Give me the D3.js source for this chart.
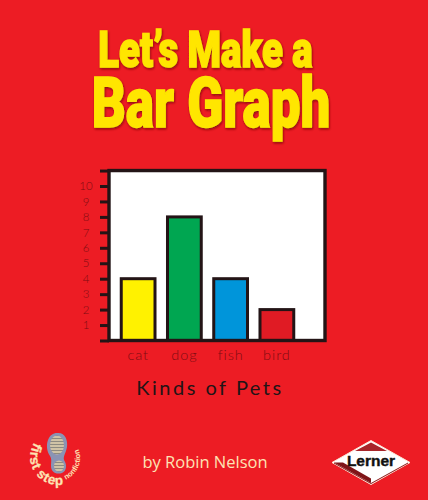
<!DOCTYPE html>
<html>
<head>
<meta charset="utf-8">
<script src="https://cdn.jsdelivr.net/npm/d3@7"></script>
<style>
  html, body { margin: 0; padding: 0; background: #ed1c24; }
  svg { display: block; }
</style>
</head>
<body>
<div id="cover"></div>
<script>
// chart data
var pets = ["cat", "dog", "fish", "bird"];
var counts = [4, 8, 4, 2];
var barColors = ["#fff200", "#00a651", "#0095da", "#e01b24"];
var tickValues = [1, 2, 3, 4, 5, 6, 7, 8, 9, 10];
var topTick = 11;

var red = "#ed1c24", ink = "#231416", inkRed = "#7e0c12", cream = "#fde3b4";

var svg = d3.select("#cover")
  .append("svg")
    .attr("width", 428)
    .attr("height", 500);

svg.append("rect")
    .attr("width", 428)
    .attr("height", 500)
    .attr("fill", red);

var defs = svg.append("defs");
var shadow = defs.append("filter").attr("id", "soft")
    .attr("x", "-10%").attr("y", "-10%").attr("width", "120%").attr("height", "120%");
shadow.append("feDropShadow")
    .attr("dx", 1).attr("dy", 1.5)
    .attr("stdDeviation", 1.2)
    .attr("flood-color", "#8c0a10");

// title, squeezed horizontally to get the condensed look
function titleLine(label, cx, baseline, size, squeeze) {
  svg.append("text")
      .attr("transform", "translate(" + cx + "," + baseline + ") scale(" + squeeze + ",1)")
      .attr("text-anchor", "middle")
      .attr("font-family", "Roboto, sans-serif")
      .attr("font-weight", 900)
      .attr("font-size", size)
      .attr("fill", "#ffe600")
      .attr("stroke", "#ffe600")
      .attr("stroke-width", 1.5)
      .attr("filter", "url(#soft)")
      .text(label);
}
titleLine("Let\u2019s Make a", 205.5, 67, 50, 0.765);
titleLine("Bar Graph", 211, 127, 70, 0.756);

// scales
var x = d3.scaleBand()
    .domain(pets)
    .range([115, 300])
    .paddingInner(0.27)
    .paddingOuter(0.135);

var y = d3.scaleLinear()
    .domain([0, 10])
    .range([340.5, 186]);

// plot panel
svg.append("rect")
    .attr("x", 109)
    .attr("y", y(topTick))
    .attr("width", 216)
    .attr("height", y(0) - y(topTick))
    .attr("fill", "#fff");

// bars
svg.append("g")
  .selectAll("rect")
  .data(pets)
  .enter()
  .append("rect")
    .attr("x", function (d) { return x(d); })
    .attr("y", function (d, i) { return y(counts[i]); })
    .attr("width", x.bandwidth())
    .attr("height", function (d, i) { return y(0) - y(counts[i]); })
    .attr("fill", function (d, i) { return barColors[i]; })
    .attr("stroke", ink)
    .attr("stroke-width", 3);

// frame, drawn after the bars so the baseline sits on top
svg.append("rect")
    .attr("x", 109)
    .attr("y", y(topTick))
    .attr("width", 216)
    .attr("height", y(0) - y(topTick))
    .attr("fill", "none")
    .attr("stroke", ink)
    .attr("stroke-width", 3.4);

// Y axis ticks
var yAxis = d3.axisLeft(y)
    .tickValues(tickValues.concat([0, topTick]))
    .tickSize(9)
    .tickPadding(0)
    .tickFormat(function (d) { return tickValues.indexOf(d) >= 0 ? d : ""; });

var yG = svg.append("g")
    .attr("transform", "translate(109,0)")
    .call(yAxis);
yG.select(".domain").remove();
yG.selectAll("line")
    .attr("stroke", ink)
    .attr("stroke-width", 3);
yG.selectAll("text")
    .attr("x", -23)
    .attr("text-anchor", "middle")
    .attr("font-family", "Lato, sans-serif")
    .attr("font-weight", 300)
    .attr("font-size", 11.5)
    .attr("fill", inkRed);

// X axis labels
var xG = svg.append("g")
    .attr("transform", "translate(0,340)")
    .call(d3.axisBottom(x).tickSize(0).tickPadding(10));
xG.select(".domain").remove();
xG.selectAll("text")
    .attr("font-family", "Lato, sans-serif")
    .attr("font-weight", 300)
    .attr("font-size", 14.5)
    .attr("letter-spacing", 0.9)
    .attr("fill", inkRed);

// X axis title
svg.append("text")
    .attr("x", 210)
    .attr("y", 395)
    .attr("text-anchor", "middle")
    .attr("font-family", "Lato, sans-serif")
    .attr("font-size", 20)
    .attr("letter-spacing", 2.5)
    .attr("fill", ink)
    .text("Kinds of Pets");

// author
svg.append("text")
    .attr("x", 205)
    .attr("y", 468)
    .attr("text-anchor", "middle")
    .attr("font-family", "'Open Sans', sans-serif")
    .attr("font-size", 16.5)
    .attr("fill", cream)
    .text("by Robin Nelson");

// first step badge: shoe sole with text on a circle
var stripes = defs.append("pattern")
    .attr("id", "tread")
    .attr("width", 4).attr("height", 3)
    .attr("patternUnits", "userSpaceOnUse");
stripes.append("rect").attr("width", 4).attr("height", 3).attr("fill", "#cfc3a6");
stripes.append("rect").attr("width", 4).attr("height", 1).attr("fill", "#8d8a80");

var sole = svg.append("g");
sole.append("path")
    .attr("d", "M57,433 C65,432 68,440 67,447 C66,453 63,456 64,460 C67,464 67,471 62,473 C56,475 51,472 51,466 C51,462 52,459 50,456 C47,452 46,445 48,440 C50,435 53,433 57,433 Z")
    .attr("fill", "#8b93b4");
sole.append("ellipse")
    .attr("cx", 57).attr("cy", 445).attr("rx", 7).attr("ry", 9.5)
    .attr("fill", "url(#tread)");
sole.append("ellipse")
    .attr("cx", 59).attr("cy", 466).attr("rx", 5).attr("ry", 5.5)
    .attr("fill", "url(#tread)");

// baselines run counter-clockwise, letter tops point at the middle of the sole
defs.append("path")
    .attr("id", "badgeArc")
    .attr("d", "M36,440 A28,28 0 0 0 66,484");
defs.append("path")
    .attr("id", "badgeArc2")
    .attr("d", "M62,481 A24,24 0 0 0 77,446");

svg.append("text")
    .attr("font-family", "'Liberation Sans', sans-serif")
    .attr("font-weight", 700)
    .attr("font-size", 13.5)
    .attr("letter-spacing", 0.8)
    .attr("fill", cream)
    .attr("stroke", cream)
    .attr("stroke-width", 0.3)
  .append("textPath")
    .attr("href", "#badgeArc")
    .attr("startOffset", 3)
    .text("first step");

svg.append("text")
    .attr("font-family", "'Liberation Sans', sans-serif")
    .attr("font-weight", 700)
    .attr("font-size", 7.5)
    .attr("fill", cream)
  .append("textPath")
    .attr("href", "#badgeArc2")
    .attr("startOffset", 4)
    .text("nonfiction");

// publisher logo
var logo = svg.append("g").attr("transform", "translate(371,462.5)");
logo.append("path")
    .attr("d", "M0,-22 L39,0 L0,22 L-39,0 Z")
    .attr("fill", "#fff")
    .attr("stroke", "#fde9d8")
    .attr("stroke-width", 1);
logo.append("path")
    .attr("d", "M0,-20 L16,-11.5 L-16,-11.5 Z")
    .attr("fill", "#a8252a");
logo.append("path")
    .attr("d", "M-37,0 L0,20.5 L37,0 L37,1 L0,21.5 L-37,1 Z")
    .attr("fill", "#8a1518");
logo.append("path")
    .attr("d", "M-37,0 L-28,0 L0,16 L0,20.5 Z")
    .attr("fill", "#7f1518");
logo.append("text")
    .attr("y", 3.5)
    .attr("text-anchor", "middle")
    .attr("font-family", "'Liberation Sans', sans-serif")
    .attr("font-weight", 700)
    .attr("font-size", 15.5)
    .attr("stroke", "#111")
    .attr("stroke-width", 0.4)
    .attr("fill", "#111")
    .text("Lerner");
</script>
</body>
</html>
